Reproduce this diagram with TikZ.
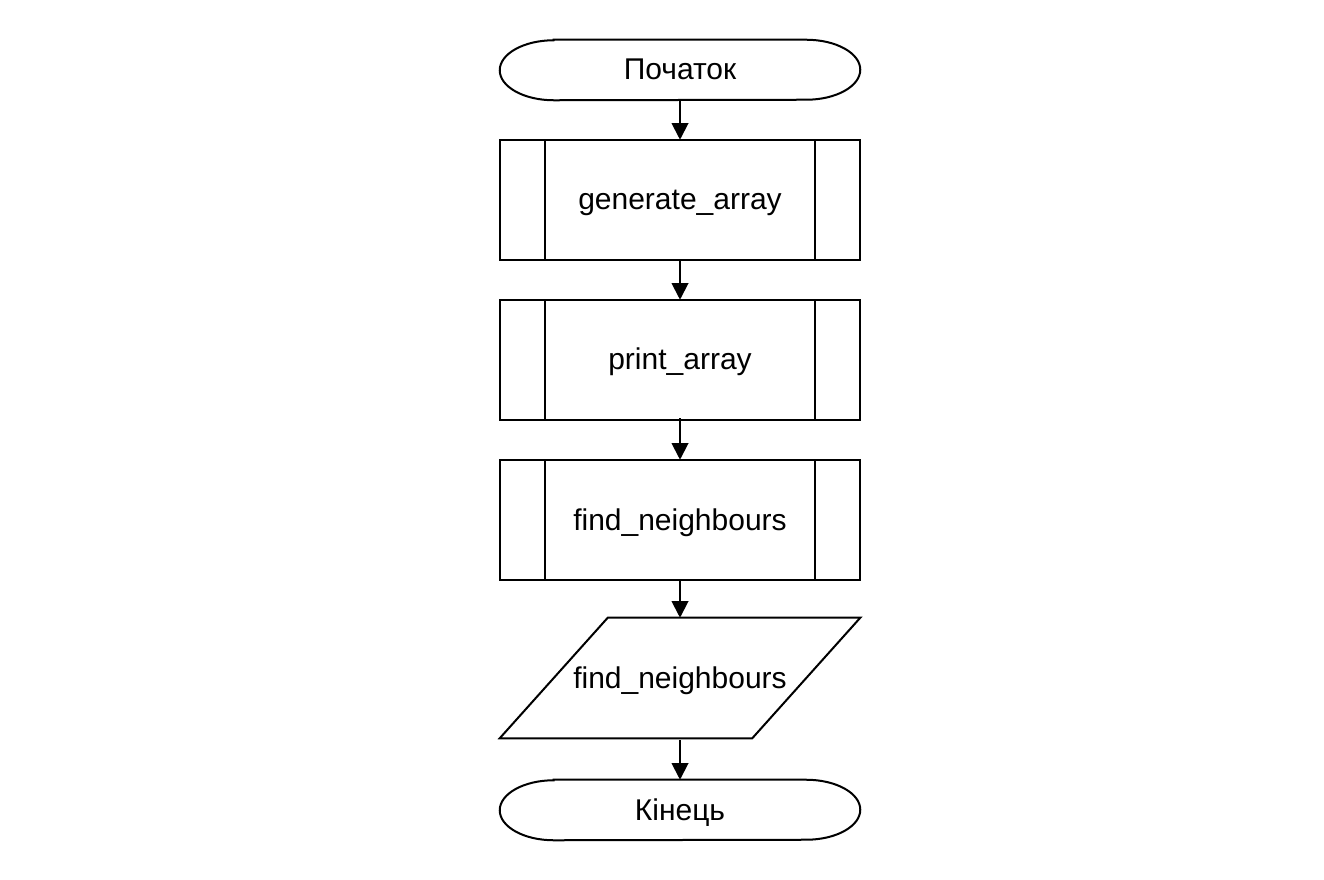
\documentclass[tikz,border=0pt]{standalone}
\usepackage{fontspec}
\setmainfont{Liberation Sans}
\usetikzlibrary{arrows.meta}
\begin{document}
\begin{tikzpicture}[x=0.75pt,y=-0.75pt,
  lbl/.style={inner sep=0pt, text height=18pt, text depth=3pt, font=\fontsize{22.5}{27}\selectfont},
  term/.style={lbl, minimum width=270pt, minimum height=45pt},
  proc/.style={lbl, minimum width=270pt, minimum height=90pt},
  outline/.style={line width=1.5pt, line join=miter},
  flow/.style={line width=1.5pt, -{Triangle[width=12.5pt,length=12.5pt]}}]
\fill[white] (0,0) rectangle (1324,880);
\useasboundingbox (0,0) rectangle (1324,880);

\node[term] (s) at (680,70) {Початок};
\node[proc] (g) at (680,200) {generate\_array};
\node[proc] (p) at (680,360) {print\_array};
\node[proc] (f) at (680,520) {find\_neighbours};
\node[proc] (o) at (680,678) {find\_neighbours};
\node[term] (e) at (680,810) {Кінець};

% terminators
\foreach \n in {s,e}{
  \draw[outline] ([xshift=40.5pt]\n.north west) -- ([xshift=-40.5pt]\n.north east)
    arc[start angle=90,end angle=-90,x radius=40.5pt,y radius=22.5pt]
    -- ([xshift=40.5pt]\n.south west)
    arc[start angle=270,end angle=90,x radius=40.5pt,y radius=22.5pt] -- cycle;
}
% predefined processes
\foreach \n in {g,p,f}{
  \draw[outline] (\n.north west) rectangle (\n.south east);
  \draw[outline] ([xshift=33.75pt]\n.north west) -- ([xshift=33.75pt]\n.south west);
  \draw[outline] ([xshift=-33.75pt]\n.north east) -- ([xshift=-33.75pt]\n.south east);
}
% data (parallelogram)
\draw[outline] ([xshift=81pt]o.north west) -- (o.north east)
  -- ([xshift=-81pt]o.south east) -- (o.south west) -- cycle;

% connectors
\draw[flow] (s.south) -- (g.north);
\draw[flow] (g.south) -- (p.north);
\draw[flow] ([yshift=1.5pt]p.south) -- (f.north);
\draw[flow] (f.south) -- (o.north);
\draw[flow] ([yshift=-1.5pt]o.south) -- (e.north);
\end{tikzpicture}
\end{document}
